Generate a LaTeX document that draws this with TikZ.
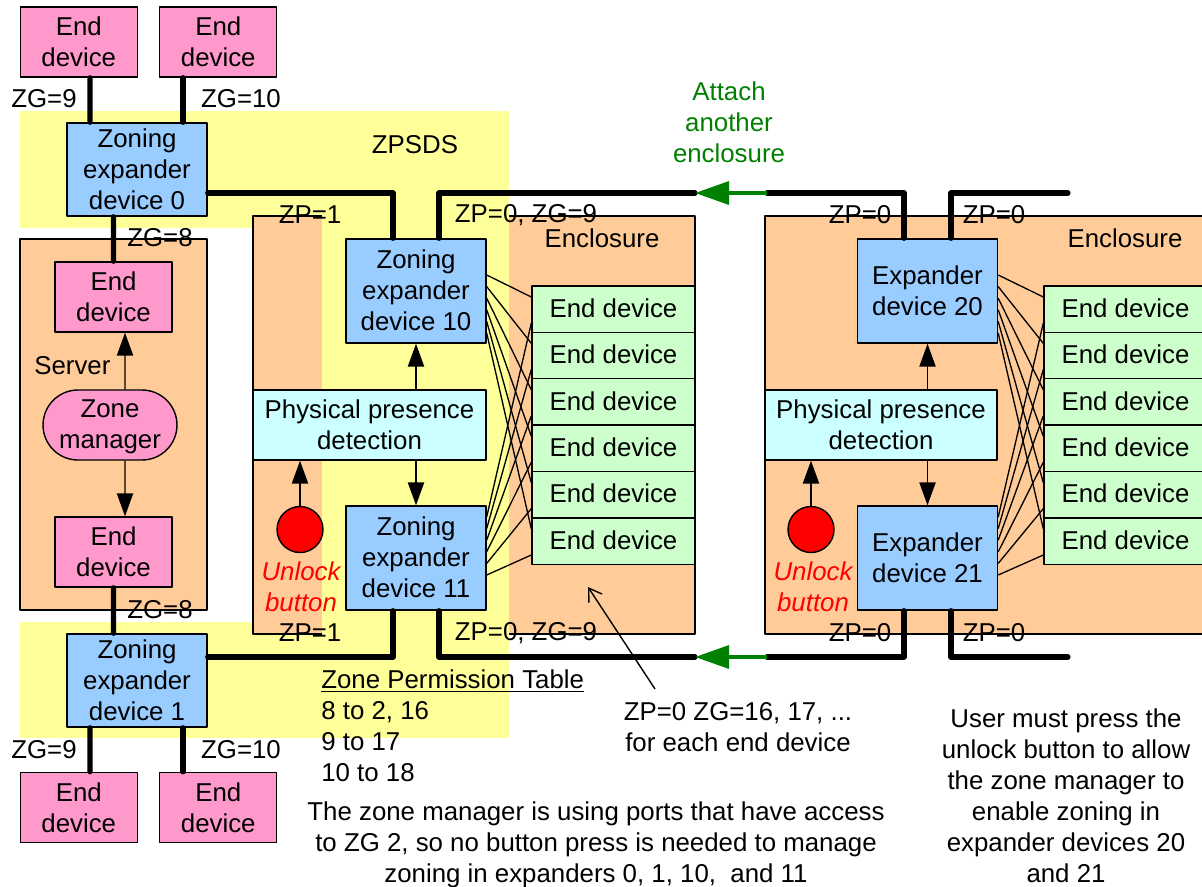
\documentclass[tikz,border=0pt]{standalone}
\usepackage{fontspec}
\setmainfont{Liberation Sans}
\usetikzlibrary{arrows.meta,shapes.misc}
\definecolor{pinkfill}{HTML}{FF99CC}
\definecolor{bluefill}{HTML}{99CCFF}
\definecolor{orangefill}{HTML}{FFCC99}
\definecolor{yellowfill}{HTML}{FFFF99}
\definecolor{greenfill}{HTML}{CCFFCC}
\definecolor{cyanfill}{HTML}{CCFFFF}
\definecolor{attachgreen}{HTML}{008000}
\def\pxl{0.02cm}
\tikzset{
	every node/.style={font=\fontsize{14.7}{17.65}\selectfont, align=center, inner sep=0pt},
	base/.style={draw, line width=0.8pt},
	enddev/.style={base, fill=pinkfill, minimum width=2.34cm, minimum height=1.4cm},
	zoner/.style={base, fill=bluefill, minimum width=2.8cm, minimum height=1.86cm},
	expander/.style={base, fill=bluefill, minimum width=2.8cm, minimum height=2.08cm},
	slotdev/.style={base, fill=greenfill, minimum width=3.26cm, minimum height=0.928cm, text depth=0.04cm},
	presence/.style={base, fill=cyanfill, minimum height=1.4cm},
	enclosure/.style={draw, line width=0.8pt, fill=orangefill},
	button/.style={base, circle, fill=red, minimum size=0.92cm},
	redlabel/.style={text=red, font=\fontsize{14.7}{17.65}\selectfont\itshape},
	link/.style={line width=2.9pt, line cap=round},
	flow/.style={line width=0.8pt, -{Triangle[length=13pt,width=9.2pt]}},
	attach/.style={attachgreen, line width=2.3pt, -{Triangle[length=19.4pt,width=13pt]}},
	fan/.style={line width=0.75pt}
}
\begin{document}
\begin{tikzpicture}[x=\pxl, y=-\pxl, line join=round]
	\useasboundingbox (0,0) rectangle (1202,886);

	% ZPSDS bands and the enclosures behind them
	\fill[yellowfill] (20,111) rectangle (509,228);
	\fill[yellowfill] (20,622) rectangle (509,738);
	\draw[enclosure] (253,216) rectangle (695,634);
	\draw[enclosure] (20,239) rectangle (207,610);
	\draw[enclosure] (765,216) rectangle (1215,634);
	\fill[yellowfill] (322,111) rectangle (509,738);

	% Boxes
	\foreach \n/\x/\y in {
		edA/78.75/42, edB/218.25/42,
		edC/113.5/297, edD/113.5/552,
		edE/78.75/807.5, edF/218.25/807.5
	} \node[enddev] (\n) at (\x,\y) {End\\device};
	\node[zoner] (ze0) at (137,169.5) {Zoning\\expander\\device 0};
	\node[zoner] (ze1) at (137,680.5) {Zoning\\expander\\device 1};
	\node[expander, text depth=0.04cm] (ze10) at (416,291) {Zoning\\expander\\device 10};
	\node[expander, text depth=0.04cm] (ze11) at (416,558) {Zoning\\expander\\device 11};
	\node[expander] (ex20) at (927.5,291) {Expander\\device 20};
	\node[expander] (ex21) at (927.5,558) {Expander\\device 21};
	\node[base, rounded rectangle, fill=pinkfill, minimum width=2.68cm, minimum height=1.4cm, text depth=0.03cm] (zm) at (110,425) {Zone\\manager};
	\node[presence, minimum width=4.66cm] (ppdA) at (369.5,425) {Physical presence\\detection};
	\node[presence, minimum width=4.64cm] (ppdB) at (881,425) {Physical presence\\detection};
	\node[button] (btnA) at (300,529.5) {};
	\node[button] (btnB) at (811,529.5) {};
	\foreach \i in {1,...,6} {
		\node[slotdev] (sa\i) at (613.5,{309+46.4*(\i-1)}) {End device};
		\node[slotdev] (sb\i) at (1125.5,{309+46.4*(\i-1)}) {End device};
	}

	% Expander to end device wiring
	\foreach \top/\bot/\s in {ze10/ze11/sa, ex20/ex21/sb}
		\foreach \i in {1,...,6} {
			\draw[fan] ([yshift={(16-11.6*(\i-1))*\pxl}]\top.east) -- ([yshift=12*\pxl]\s\i.west);
			\draw[fan] ([yshift={(41-11.6*(\i-1))*\pxl}]\bot.east) -- ([yshift=-14*\pxl]\s\i.west);
		}

	% Thin arrows
	\draw[flow] ([xshift=15*\pxl]zm.north) -- ([xshift=11.5*\pxl]edC.south);
	\draw[flow] ([xshift=15*\pxl]zm.south) -- ([xshift=11.5*\pxl]edD.north);
	\draw[flow] (ze10.south |- ppdA.north) -- (ze10.south);
	\draw[flow] (ze11.north |- ppdA.south) -- (ze11.north);
	\draw[flow] (ex20.south |- ppdB.north) -- (ex20.south);
	\draw[flow] (ex21.north |- ppdB.south) -- (ex21.north);
	\draw[flow] (btnA.north) -- (btnA.north |- ppdA.south);
	\draw[flow] (btnB.north) -- (btnB.north |- ppdB.south);

	% Thick links
	\draw[link] ([xshift=11.25*\pxl]edA.south) -- ([xshift=-47*\pxl]ze0.north);
	\draw[link] ([xshift=-35.25*\pxl]edB.south) -- ([xshift=46*\pxl]ze0.north);
	\draw[link] ([xshift=-23.5*\pxl]ze0.south) -- (edC.north);
	\draw[link] (edD.south) -- ([xshift=-23.5*\pxl]ze1.north);
	\draw[link] ([xshift=-47*\pxl]ze1.south) -- ([xshift=11.25*\pxl]edE.north);
	\draw[link] ([xshift=46*\pxl]ze1.south) -- ([xshift=-35.25*\pxl]edF.north);
	\draw[link] ([yshift=-23.5*\pxl]ze0.east) -| ([xshift=-23*\pxl]ze10.north);
	\draw[link] ([yshift=23.5*\pxl]ze1.east) -| ([xshift=-23*\pxl]ze11.south);

	\coordinate (topL) at (695,193);  \coordinate (topR) at (767,193);
	\coordinate (botL) at (695,657);  \coordinate (botR) at (767,657);
	\coordinate (topEnd) at (1068,193);
	\coordinate (botEnd) at (1068,657);
	\draw[link] ([xshift=23*\pxl]ze10.north) |- (topL);
	\draw[link] ([xshift=23*\pxl]ze11.south) |- (botL);
	\draw[link] ([xshift=-23.5*\pxl]ex20.north) |- (topR);
	\draw[link] ([xshift=-23.5*\pxl]ex21.south) |- (botR);
	\draw[link] ([xshift=23.5*\pxl]ex20.north) |- (topEnd);
	\draw[link] ([xshift=23.5*\pxl]ex21.south) |- (botEnd);
	\draw[attach] (topR) -- (topL);
	\draw[attach] (botR) -- (botL);

	% Labels
	\foreach \p/\x/\y/\lab in {
		zgA/44/99/ZG=9, zgB/241/99/ZG=10,
		zgC/44/750/ZG=9, zgD/241/750/ZG=10,
		zgE/160/238/ZG=8, zgF/160/610/ZG=8,
		zpA/310/215/ZP=1, zpB/310/633/ZP=1,
		zpC/526/215/{ZP=0, ZG=9}, zpD/526/633/{ZP=0, ZG=9},
		zpE/860/215/ZP=0, zpF/994/215/ZP=0,
		zpG/860/633/ZP=0, zpH/994/633/ZP=0,
		encA/602/238/Enclosure, encB/1125/238/Enclosure,
		zpsds/415/145/ZPSDS, server/76/366/Server
	} \node (\p) at (\x,\y) {\lab};
	\node[redlabel] (unlockA) at (301,587) {Unlock\\button};
	\node[redlabel] (unlockB) at (813,587) {Unlock\\button};
	\node[text=attachgreen] (attachtxt) at (729,122) {Attach\\another\\enclosure};
	\node[align=left, anchor=west] (table) at (321,726) {\underline{Zone Permission Table}\\8 to 2, 16\\9 to 17\\10 to 18};
	\node (slotnote) at (738,727) {ZP=0 ZG=16, 17, ...\\for each end device};
	\node (zonenote) at (596,845) {The zone manager is using ports that have access\\to ZG 2, so no button press is needed to manage\\zoning in expanders 0, 1, 10,\ \ and 11};
	\node (usernote) at (1066,796) {User must press the\\unlock button to allow\\the zone manager to\\enable zoning in\\expander devices 20\\and 21};

	\coordinate (slotptr) at (588,587);
	\coordinate (notefoot) at (655,689);
	\draw[line width=0.8pt, -{Straight Barb[length=7pt,width=9pt]}] (notefoot) -- (slotptr);
\end{tikzpicture}
\end{document}
